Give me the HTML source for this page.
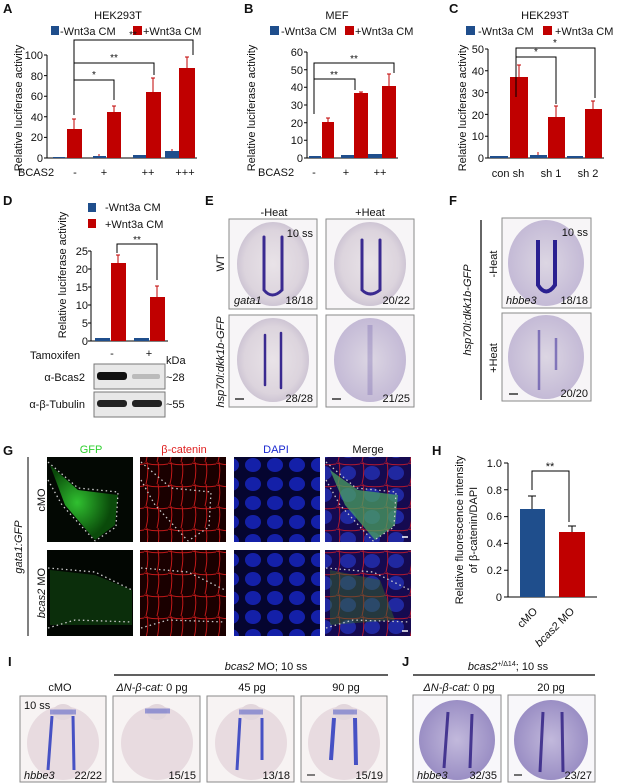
<!DOCTYPE html>
<html><head><meta charset="utf-8"><style>
html,body{margin:0;padding:0;background:#fff}
svg{display:block}
text{font-family:"Liberation Sans",Arial,sans-serif;fill:#111}
</style></head><body>
<svg width="617" height="783" viewBox="0 0 617 783" xmlns="http://www.w3.org/2000/svg">
<defs>
<radialGradient id="emb" cx="0.5" cy="0.5" r="0.5"><stop offset="0" stop-color="#e9e3e8"/><stop offset="0.8" stop-color="#dcd4dd"/><stop offset="1" stop-color="#cec5d4"/></radialGradient>
<radialGradient id="embJ" cx="0.5" cy="0.5" r="0.5"><stop offset="0" stop-color="#c2b9dc"/><stop offset="1" stop-color="#9a8ec4"/></radialGradient>
<radialGradient id="embD" cx="0.5" cy="0.5" r="0.5"><stop offset="0" stop-color="#dcd6e3"/><stop offset="1" stop-color="#c4bad6"/></radialGradient>
<radialGradient id="gfp" cx="0.4" cy="0.5" r="0.5"><stop offset="0" stop-color="#30c030"/><stop offset="1" stop-color="#0a4a0a"/></radialGradient>
<pattern id="mesh" width="24" height="22" patternUnits="userSpaceOnUse"><rect width="24" height="22" fill="#1a0000"/><path d="M0 1 Q12 4 24 2 M3 0 Q5 11 2 22 M14 0 Q16 10 13 22" stroke="#c01818" stroke-width="1" fill="none"/></pattern>
<pattern id="dapi" width="22" height="19" patternUnits="userSpaceOnUse"><rect width="22" height="19" fill="#050530"/><ellipse cx="11" cy="9" rx="8" ry="7" fill="#1420a8"/></pattern>
<pattern id="merge" width="24" height="22" patternUnits="userSpaceOnUse"><rect width="24" height="22" fill="#150a50"/><ellipse cx="12" cy="11" rx="8" ry="7" fill="#2028a0"/><path d="M0 1 Q12 4 24 2 M3 0 Q5 11 2 22" stroke="#b01830" stroke-width="1" fill="none"/></pattern>
</defs>

<!-- ========== A ========== -->
<text x="3" y="13" font-size="13" font-weight="bold">A</text>
<text x="118" y="19" font-size="11" text-anchor="middle">HEK293T</text>
<rect x="51" y="26" width="8" height="9" fill="#1f4e8c"/><text x="60" y="35" font-size="11">-Wnt3a CM</text>
<rect x="133" y="26" width="9" height="9" fill="#c00000"/><text x="143" y="35" font-size="11">+Wnt3a CM</text>
<text transform="translate(22,108) rotate(-90)" font-size="11" text-anchor="middle">Relative luciferase activity</text>
<g font-size="11" text-anchor="end">
<text x="43" y="162">0</text><text x="43" y="141">20</text><text x="43" y="121">40</text><text x="43" y="100">60</text><text x="43" y="80">80</text><text x="43" y="59">100</text></g>
<path d="M47 55 V158 H197 M44 158H47 M44 137.4H47 M44 116.8H47 M44 96.2H47 M44 75.6H47 M44 55H47" stroke="#000" fill="none"/>
<g fill="#1f4e8c"><rect x="53" y="157" width="12" height="1"/><rect x="93" y="156" width="13" height="2"/><rect x="133" y="155" width="13" height="3"/><rect x="165" y="151" width="14" height="7"/></g>
<g fill="#c00000"><rect x="67" y="129" width="15" height="29"/><rect x="107" y="112" width="14" height="46"/><rect x="146" y="92" width="15" height="66"/><rect x="179" y="68" width="16" height="90"/></g>
<path d="M74 129V119M72 119h4 M114 112V106M112 106h4 M153 92V78M151 78h4 M187 68V57M185 57h4 M99 156V154 M172 151V149" stroke="#c00000" fill="none"/>
<path d="M74 115V40H193V55 M74 63H154V75 M74 80H114V100" stroke="#000" fill="none"/>
<text x="133" y="38" font-size="10" text-anchor="middle">**</text>
<text x="114" y="61" font-size="10" text-anchor="middle">**</text>
<text x="94" y="78" font-size="10" text-anchor="middle">*</text>
<g font-size="11"><text x="18" y="176">BCAS2</text><text x="75" y="176" text-anchor="middle">-</text><text x="104" y="176" text-anchor="middle">+</text><text x="148" y="176" text-anchor="middle">++</text><text x="185" y="176" text-anchor="middle">+++</text></g>

<!-- ========== B ========== -->
<text x="244" y="13" font-size="13" font-weight="bold">B</text>
<text x="337" y="19" font-size="11" text-anchor="middle">MEF</text>
<rect x="270" y="26" width="9" height="9" fill="#1f4e8c"/><text x="281" y="35" font-size="11">-Wnt3a CM</text>
<rect x="345" y="26" width="9" height="9" fill="#c00000"/><text x="355" y="35" font-size="11">+Wnt3a CM</text>
<text transform="translate(255,108) rotate(-90)" font-size="11" text-anchor="middle">Relative luciferase activity</text>
<g font-size="11" text-anchor="end">
<text x="303" y="162">0</text><text x="303" y="144">10</text><text x="303" y="127">20</text><text x="303" y="109">30</text><text x="303" y="91">40</text><text x="303" y="74">50</text><text x="303" y="56">60</text></g>
<path d="M307 52V158H398 M304 158h3 M304 140.3h3 M304 122.7h3 M304 105h3 M304 87.3h3 M304 69.7h3 M304 52h3" stroke="#000" fill="none"/>
<g fill="#1f4e8c"><rect x="309" y="156" width="12" height="2"/><rect x="341" y="155" width="13" height="3"/><rect x="368" y="154" width="14" height="4"/></g>
<g fill="#c00000"><rect x="322" y="122" width="12" height="36"/><rect x="354" y="93" width="14" height="65"/><rect x="382" y="86" width="14" height="72"/></g>
<path d="M328 122V118M326 118h4 M361 93V92M359 92h4 M389 86V74M387 74h4" stroke="#c00000" fill="none"/>
<path d="M314 114V63H394V73 M314 79H355V90" stroke="#000" fill="none"/>
<text x="354" y="62" font-size="10" text-anchor="middle">**</text>
<text x="334" y="78" font-size="10" text-anchor="middle">**</text>
<g font-size="11"><text x="258" y="176">BCAS2</text><text x="314" y="176" text-anchor="middle">-</text><text x="346" y="176" text-anchor="middle">+</text><text x="380" y="176" text-anchor="middle">++</text></g>

<!-- ========== C ========== -->
<text x="449" y="13" font-size="13" font-weight="bold">C</text>
<text x="545" y="19" font-size="11" text-anchor="middle">HEK293T</text>
<rect x="466" y="26" width="9" height="9" fill="#1f4e8c"/><text x="478" y="35" font-size="11">-Wnt3a CM</text>
<rect x="543" y="26" width="9" height="9" fill="#c00000"/><text x="555" y="35" font-size="11">+Wnt3a CM</text>
<text transform="translate(466,108) rotate(-90)" font-size="11" text-anchor="middle">Relative luciferase activity</text>
<g font-size="11" text-anchor="end">
<text x="484" y="162">0</text><text x="484" y="140">10</text><text x="484" y="119">20</text><text x="484" y="97">30</text><text x="484" y="75">40</text><text x="484" y="53">50</text></g>
<path d="M488 49V158H604 M485 158h3 M485 136.2h3 M485 114.4h3 M485 92.6h3 M485 70.8h3 M485 49h3" stroke="#000" fill="none"/>
<g fill="#1f4e8c"><rect x="490" y="156" width="18" height="2"/><rect x="530" y="155" width="17" height="3"/><rect x="567" y="156" width="16" height="2"/></g>
<g fill="#c00000"><rect x="510" y="77" width="18" height="81"/><rect x="548" y="117" width="17" height="41"/><rect x="585" y="109" width="17" height="49"/></g>
<path d="M519 77V65M517 65h4 M556 117V106M554 106h4 M593 109V101M591 101h4 M538 155V152" stroke="#c00000" fill="none"/>
<path d="M516 97V48H595V98 M516 57H556V104" stroke="#000" fill="none"/>
<text x="555" y="46" font-size="10" text-anchor="middle">*</text>
<text x="536" y="55" font-size="10" text-anchor="middle">*</text>
<g font-size="11" text-anchor="middle"><text x="508" y="177">con sh</text><text x="551" y="177">sh 1</text><text x="588" y="177">sh 2</text></g>

<!-- ========== D ========== -->
<text x="3" y="205" font-size="13" font-weight="bold">D</text>
<rect x="88" y="203" width="8" height="9" fill="#1f4e8c"/><text x="105" y="211" font-size="11">-Wnt3a CM</text>
<rect x="88" y="219" width="8" height="9" fill="#c00000"/><text x="105" y="228" font-size="11">+Wnt3a CM</text>
<text transform="translate(66,275) rotate(-90)" font-size="11" text-anchor="middle">Relative luciferase activity</text>
<g font-size="11" text-anchor="end">
<text x="88" y="345">0</text><text x="88" y="327">5</text><text x="88" y="309">10</text><text x="88" y="291">15</text><text x="88" y="273">20</text><text x="88" y="255">25</text></g>
<path d="M91 251V341H168 M88 341h3 M88 323h3 M88 305h3 M88 287h3 M88 269h3 M88 251h3" stroke="#000" fill="none"/>
<g fill="#1f4e8c"><rect x="95" y="338" width="15" height="3"/><rect x="134" y="338" width="15" height="3"/></g>
<g fill="#c00000"><rect x="111" y="263" width="15" height="78"/><rect x="150" y="297" width="15" height="44"/></g>
<path d="M118 263V255M116 255h4 M157 297V286M155 286h4" stroke="#c00000" fill="none"/>
<path d="M117 253V244H157V280" stroke="#000" fill="none"/>
<text x="137" y="243" font-size="10" text-anchor="middle">**</text>
<text x="30" y="359" font-size="11">Tamoxifen</text>
<text x="112" y="357" font-size="11" text-anchor="middle">-</text><text x="149" y="357" font-size="11" text-anchor="middle">+</text>
<text x="166" y="364" font-size="11">kDa</text>
<rect x="94" y="364" width="71" height="25" fill="#e8e8e8" stroke="#777"/>
<rect x="97" y="372" width="30" height="8" rx="3" fill="#111"/><rect x="132" y="374" width="28" height="5" rx="2" fill="#bbb"/>
<rect x="94" y="392" width="71" height="25" fill="#e8e8e8" stroke="#777"/>
<rect x="97" y="400" width="30" height="7" rx="3" fill="#222"/><rect x="132" y="400" width="30" height="7" rx="3" fill="#222"/>
<text x="85" y="381" font-size="11" text-anchor="end">α-Bcas2</text><text x="166" y="381" font-size="11">~28</text>
<text x="85" y="408" font-size="11" text-anchor="end">α-β-Tubulin</text><text x="166" y="408" font-size="11">~55</text>

<!-- ========== E ========== -->
<text x="205" y="205" font-size="13" font-weight="bold">E</text>
<text x="274" y="216" font-size="11" text-anchor="middle">-Heat</text>
<text x="370" y="216" font-size="11" text-anchor="middle">+Heat</text>
<text transform="translate(224,263) rotate(-90)" font-size="11" text-anchor="middle">WT</text>
<text transform="translate(224,362) rotate(-90)" font-size="11" font-style="italic" text-anchor="middle">hsp70l:dkk1b-GFP</text>
<g stroke="#8a8a8a" fill="#f7f5f7"><rect x="229" y="219" width="88" height="90"/><rect x="326" y="219" width="88" height="90"/><rect x="229" y="315" width="88" height="92"/><rect x="326" y="315" width="88" height="92"/></g>
<g fill="url(#emb)"><ellipse cx="273" cy="264" rx="36" ry="42"/><ellipse cx="370" cy="264" rx="36" ry="42"/><ellipse cx="273" cy="360" rx="36" ry="42"/></g>
<ellipse cx="370" cy="360" rx="36" ry="42" fill="url(#embD)"/>
<g stroke="#3a2a90" stroke-width="3" fill="none" stroke-linecap="round">
<path d="M264 237 V290 Q272 300 282 290 V237"/><path d="M362 240 V290 Q370 298 380 290 V240"/>
<path d="M265 335 V385 M281 333 V388" stroke-width="2.5"/></g>
<path d="M370 325 V395" stroke="#7a6ab0" stroke-width="5" opacity="0.35"/>
<g font-size="11"><text x="313" y="237" text-anchor="end">10 ss</text><text x="234" y="304" font-style="italic">gata1</text><text x="313" y="304" text-anchor="end">18/18</text><text x="410" y="304" text-anchor="end">20/22</text><text x="313" y="402" text-anchor="end">28/28</text><text x="410" y="402" text-anchor="end">21/25</text></g>
<path d="M235 399h9 M332 399h9" stroke="#333" stroke-width="1.5"/>

<!-- ========== F ========== -->
<text x="449" y="205" font-size="13" font-weight="bold">F</text>
<text transform="translate(471,310) rotate(-90)" font-size="11" font-style="italic" text-anchor="middle">hsp70l:dkk1b-GFP</text>
<path d="M481 220V400" stroke="#000" stroke-width="1.2"/>
<text transform="translate(497,264) rotate(-90)" font-size="11" text-anchor="middle">-Heat</text>
<text transform="translate(497,358) rotate(-90)" font-size="11" text-anchor="middle">+Heat</text>
<g stroke="#8a8a8a" fill="#f7f5f7"><rect x="502" y="218" width="89" height="90"/><rect x="502" y="313" width="89" height="88"/></g>
<ellipse cx="546" cy="263" rx="38" ry="43" fill="url(#embD)"/>
<ellipse cx="546" cy="357" rx="38" ry="42" fill="url(#embD)"/>
<path d="M538 240 V285 Q546 298 555 285 V240" stroke="#2a2090" stroke-width="4" fill="none"/>
<path d="M539 330 V390 M556 338 V370" stroke="#4a3aa0" stroke-width="2.5" fill="none" opacity="0.6"/>
<g font-size="11"><text x="588" y="236" text-anchor="end">10 ss</text><text x="506" y="304" font-style="italic">hbbe3</text><text x="588" y="304" text-anchor="end">18/18</text><text x="588" y="397" text-anchor="end">20/20</text></g>
<path d="M509 394h9" stroke="#333" stroke-width="1.5"/>

<!-- ========== G ========== -->
<text x="3" y="455" font-size="13" font-weight="bold">G</text>
<g font-size="11" text-anchor="middle"><text x="91" y="453" style="fill:#2fd02f">GFP</text><text x="184" y="453" style="fill:#e02020">β-catenin</text><text x="276" y="453" style="fill:#1a28d0">DAPI</text><text x="368" y="453">Merge</text></g>
<path d="M28 457V636" stroke="#000"/>
<text transform="translate(22,547) rotate(-90)" font-size="11" font-style="italic" text-anchor="middle">gata1:GFP</text>
<text transform="translate(45,500) rotate(-90)" font-size="11" text-anchor="middle">cMO</text>
<text transform="translate(45,593) rotate(-90)" font-size="11" text-anchor="middle"><tspan font-style="italic">bcas2</tspan> MO</text>
<!-- row1 -->
<rect x="47" y="457" width="86" height="85" fill="#030803"/>
<path d="M50 465 L78 490 L118 495 L115 525 L95 540 L65 505 Z" fill="url(#gfp)"/>
<rect x="140" y="457" width="86" height="85" fill="url(#mesh)"/>
<rect x="234" y="457" width="86" height="85" fill="url(#dapi)"/>
<rect x="325" y="457" width="86" height="85" fill="url(#merge)"/>
<path d="M330 470 L358 490 L398 495 L395 525 L375 540 L345 505 Z" fill="#4aa060" opacity="0.75"/>
<g stroke="#ccc" stroke-width="1.3" stroke-dasharray="1.5 3" fill="none">
<path d="M48 462 L78 488 L118 492 L116 527 L95 541 M48 480 L62 505 L95 541"/>
<path d="M141 462 L171 488 L211 492 L209 527 L188 541 M141 480 L155 505 L188 541"/>
<path d="M326 462 L356 488 L396 492 L394 527 L373 541 M326 480 L340 505 L373 541"/></g>
<!-- row2 -->
<rect x="47" y="550" width="86" height="86" fill="#020602"/>
<path d="M50 570 L95 575 L132 590 L132 625 L50 625 Z" fill="#145014" opacity="0.55"/>
<rect x="140" y="550" width="86" height="86" fill="url(#mesh)"/>
<rect x="234" y="550" width="86" height="86" fill="url(#dapi)"/>
<rect x="325" y="550" width="86" height="86" fill="url(#merge)"/>
<path d="M330 570 L380 580 L395 620 L330 625 Z" fill="#3a7028" opacity="0.45"/>
<g stroke="#ccc" stroke-width="1.3" stroke-dasharray="1.5 3" fill="none">
<path d="M48 568 L95 572 L132 590 M48 628 L75 620 L132 622"/>
<path d="M141 568 L188 572 L225 590 M141 628 L168 620 L225 622"/>
<path d="M326 568 L373 572 L410 590 M326 628 L353 620 L410 622"/></g>
<path d="M402 537h6 M402 631h6" stroke="#fff" stroke-width="1.5"/>

<!-- ========== H ========== -->
<text x="432" y="455" font-size="13" font-weight="bold">H</text>
<text transform="translate(463,530) rotate(-90)" font-size="11" text-anchor="middle">Relative fluorescence intensity</text>
<text transform="translate(477,530) rotate(-90)" font-size="11" text-anchor="middle">of β-catenin/DAPI</text>
<g font-size="11" text-anchor="end">
<text x="502" y="601">0</text><text x="502" y="574">0.2</text><text x="502" y="547">0.4</text><text x="502" y="520">0.6</text><text x="502" y="494">0.8</text><text x="502" y="467">1.0</text></g>
<path d="M508 463V597H597 M504 597h4 M504 570.2h4 M504 543.4h4 M504 516.6h4 M504 489.8h4 M504 463h4" stroke="#000" fill="none"/>
<rect x="520" y="509" width="25" height="88" fill="#1f4e8c"/>
<rect x="559" y="532" width="26" height="65" fill="#c00000"/>
<path d="M532 509V496M528 496h8 M572 532V526M568 526h8" stroke="#000" fill="none"/>
<path d="M532 490V471H569V522" stroke="#000" fill="none"/>
<text x="550" y="470" font-size="11" text-anchor="middle">**</text>
<text transform="translate(538,612) rotate(-45)" font-size="11" text-anchor="end">cMO</text>
<text transform="translate(575,612) rotate(-45)" font-size="11" text-anchor="end"><tspan font-style="italic">bcas2</tspan> MO</text>

<!-- ========== I ========== -->
<text x="8" y="666" font-size="13" font-weight="bold">I</text>
<text x="266" y="670" font-size="11" text-anchor="middle"><tspan font-style="italic">bcas2</tspan> MO; 10 ss</text>
<path d="M114 675H388" stroke="#000" stroke-width="1.2"/>
<g font-size="11" text-anchor="middle"><text x="60" y="691">cMO</text><text x="152" y="691"><tspan font-style="italic">ΔN-β-cat:</tspan> 0 pg</text><text x="252" y="691">45 pg</text><text x="346" y="691">90 pg</text></g>
<g stroke="#8a8a8a" fill="#f7f3f3"><rect x="20" y="696" width="86" height="86"/><rect x="113" y="696" width="87" height="86"/><rect x="207" y="696" width="87" height="86"/><rect x="301" y="696" width="86" height="86"/></g>
<g fill="#e8dbe0"><ellipse cx="63" cy="743" rx="36" ry="37"/><ellipse cx="157" cy="743" rx="36" ry="37"/><ellipse cx="251" cy="743" rx="36" ry="37"/><ellipse cx="344" cy="743" rx="36" ry="37"/></g>
<g fill="#e2d6dc"><ellipse cx="63" cy="712" rx="10" ry="8"/><ellipse cx="157" cy="712" rx="10" ry="8"/><ellipse cx="251" cy="712" rx="10" ry="8"/><ellipse cx="344" cy="712" rx="10" ry="8"/></g>
<g stroke="#2a3ac0" stroke-width="3" fill="none" opacity="0.85">
<path d="M52 716 L48 770 M73 716 L74 770"/><path d="M145 711 H170" stroke-width="5" opacity="0.5"/>
<path d="M240 718 L237 770 M262 718 L262 760"/><path d="M334 718 L331 760 M355 718 L356 765" stroke-width="4"/>
<path d="M50 712 H76 M239 712 H263 M333 712 H357" stroke-width="5" opacity="0.5"/></g>
<g font-size="11"><text x="24" y="709">10 ss</text><text x="24" y="779" font-style="italic">hbbe3</text><text x="102" y="779" text-anchor="end">22/22</text><text x="196" y="779" text-anchor="end">15/15</text><text x="290" y="779" text-anchor="end">13/18</text><text x="383" y="779" text-anchor="end">15/19</text></g>
<path d="M307 775h8" stroke="#555" stroke-width="1.5"/>

<!-- ========== J ========== -->
<text x="402" y="666" font-size="13" font-weight="bold">J</text>
<text x="508" y="670" font-size="11" text-anchor="middle"><tspan font-style="italic">bcas2</tspan><tspan font-size="7" dy="-4">+/Δ14</tspan><tspan dy="4">; 10 ss</tspan></text>
<path d="M413 675H595" stroke="#000" stroke-width="1.2"/>
<g font-size="11" text-anchor="middle"><text x="459" y="691"><tspan font-style="italic">ΔN-β-cat:</tspan> 0 pg</text><text x="551" y="691">20 pg</text></g>
<g stroke="#8a8a8a" fill="#f8f7fa"><rect x="413" y="695" width="88" height="87"/><rect x="508" y="695" width="87" height="87"/></g>
<ellipse cx="457" cy="740" rx="38" ry="40" fill="url(#embJ)"/>
<ellipse cx="551" cy="740" rx="37" ry="40" fill="url(#embJ)"/>
<g stroke="#2a1a80" stroke-width="3" fill="none" opacity="0.8">
<path d="M448 712 L444 768 M472 714 L470 768"/><path d="M543 712 L540 772 M562 712 L563 772"/></g>
<g font-size="11"><text x="417" y="779" font-style="italic">hbbe3</text><text x="497" y="779" text-anchor="end">32/35</text><text x="592" y="779" text-anchor="end">23/27</text></g>
<path d="M514 775h8" stroke="#444" stroke-width="1.5"/>
</svg>
</body></html>
